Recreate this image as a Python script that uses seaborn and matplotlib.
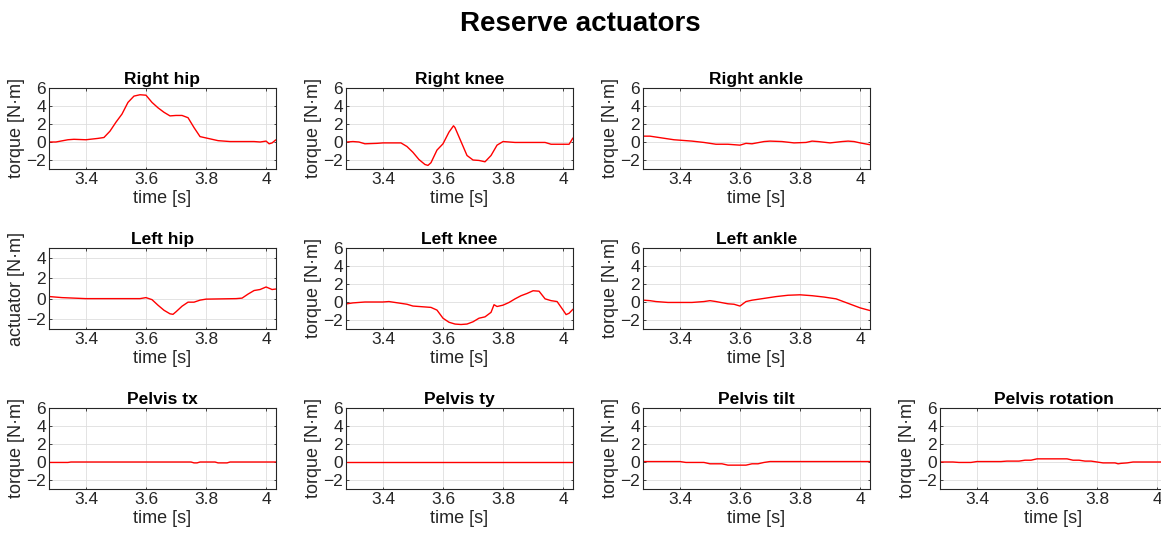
import numpy as np
import pandas as pd
import seaborn as sns
import matplotlib
matplotlib.use("Agg")
import matplotlib.pyplot as plt

# Reserve actuator torques, one (time, value) pair of lists per panel
right_hip_t = [3.28, 3.30, 3.34, 3.36, 3.40, 3.44, 3.46, 3.48, 3.50, 3.52, 3.54, 3.56, 3.58, 3.60,
               3.62, 3.64, 3.66, 3.68, 3.70, 3.72, 3.74, 3.76, 3.78, 3.80, 3.82, 3.84, 3.88, 3.92,
               3.96, 3.98, 4.00, 4.01, 4.02, 4.033]
right_hip_v = [0.0, 0.0, 0.25, 0.3, 0.25, 0.4, 0.5, 1.2, 2.2, 3.1, 4.4, 5.1, 5.25, 5.2,
               4.4, 3.8, 3.3, 2.9, 2.95, 2.95, 2.7, 1.6, 0.6, 0.45, 0.3, 0.15, 0.05, 0.05,
               0.05, 0.0, 0.1, -0.2, -0.1, 0.25]

right_knee_t = [3.28, 3.30, 3.32, 3.34, 3.38, 3.40, 3.46, 3.48, 3.50, 3.52, 3.54, 3.55, 3.56, 3.58,
                3.60, 3.62, 3.635, 3.64, 3.66, 3.68, 3.70, 3.72, 3.74, 3.76, 3.78, 3.80, 3.84, 3.94,
                3.96, 4.02, 4.033]
right_knee_v = [0.0, 0.05, 0.0, -0.2, -0.15, -0.1, -0.1, -0.5, -1.15, -1.95, -2.5, -2.6, -2.3, -0.9,
                -0.2, 1.1, 1.8, 1.6, 0.05, -1.5, -2.0, -2.05, -2.2, -1.5, -0.35, 0.05, -0.05, -0.05,
                -0.25, -0.25, 0.45]

right_ankle_t = [3.28, 3.30, 3.34, 3.38, 3.40, 3.44, 3.48, 3.52, 3.56, 3.60, 3.62, 3.64, 3.68,
                 3.70, 3.74, 3.78, 3.82, 3.84, 3.86, 3.90, 3.94, 3.96, 3.98, 4.00, 4.033]
right_ankle_v = [0.65, 0.65, 0.45, 0.25, 0.2, 0.1, -0.05, -0.25, -0.25, -0.35, -0.15, -0.2, 0.05,
                 0.1, 0.05, -0.1, -0.05, 0.1, 0.05, -0.1, 0.05, 0.1, 0.05, -0.1, -0.3]

left_hip_t = [3.28, 3.30, 3.32, 3.36, 3.40, 3.58, 3.60, 3.62, 3.64, 3.66, 3.68, 3.69, 3.70, 3.72,
              3.74, 3.76, 3.78, 3.80, 3.90, 3.92, 3.94, 3.96, 3.98, 4.00, 4.02, 4.033]
left_hip_v = [0.2, 0.15, 0.1, 0.05, 0.0, 0.0, 0.1, -0.1, -0.65, -1.15, -1.5, -1.55, -1.3, -0.75,
              -0.35, -0.35, -0.15, -0.05, 0.0, 0.05, 0.45, 0.8, 0.9, 1.15, 0.9, 0.95]

left_knee_t = [3.28, 3.30, 3.34, 3.40, 3.42, 3.44, 3.46, 3.48, 3.50, 3.54, 3.56, 3.58, 3.60, 3.62,
               3.64, 3.66, 3.68, 3.70, 3.72, 3.74, 3.76, 3.77, 3.78, 3.80, 3.82, 3.84, 3.86, 3.88,
               3.90, 3.92, 3.94, 3.96, 3.98, 4.00, 4.01, 4.02, 4.033]
left_knee_v = [-0.2, -0.1, 0.0, 0.0, 0.05, -0.05, -0.15, -0.25, -0.45, -0.55, -0.6, -0.9, -1.8, -2.25,
               -2.45, -2.5, -2.45, -2.2, -1.8, -1.65, -1.15, -0.3, -0.5, -0.35, -0.05, 0.35, 0.7, 0.95,
               1.25, 1.2, 0.35, 0.15, 0.05, -0.9, -1.4, -1.25, -0.8]

left_ankle_t = [3.28, 3.30, 3.32, 3.36, 3.44, 3.48, 3.50, 3.52, 3.56, 3.58, 3.60, 3.62, 3.64,
                3.68, 3.72, 3.76, 3.80, 3.84, 3.88, 3.92, 3.94, 3.96, 3.98, 4.00, 4.033]
left_ankle_v = [0.2, 0.15, 0.05, -0.05, -0.05, 0.05, 0.15, 0.05, -0.2, -0.25, -0.45, 0.05, 0.2,
                0.4, 0.6, 0.75, 0.8, 0.7, 0.55, 0.35, 0.1, -0.15, -0.4, -0.65, -0.95]

pelvis_tx_t = [3.28, 3.34, 3.35, 3.75, 3.76, 3.77, 3.78, 3.83, 3.84, 3.87, 3.88, 4.033]
pelvis_tx_v = [-0.05, -0.05, 0.0, 0.0, -0.1, -0.1, 0.0, 0.0, -0.1, -0.1, 0.0, 0.0]

pelvis_ty_t = [3.28, 4.033]
pelvis_ty_v = [0.0, 0.0]

pelvis_tilt_t = [3.28, 3.40, 3.42, 3.48, 3.50, 3.54, 3.56, 3.62, 3.64, 3.66, 3.68, 3.70, 4.033]
pelvis_tilt_v = [0.05, 0.05, -0.05, -0.05, -0.2, -0.2, -0.35, -0.35, -0.2, -0.2, -0.05, 0.05, 0.05]

pelvis_rot_t = [3.28, 3.32, 3.34, 3.38, 3.40, 3.48, 3.50, 3.54, 3.56, 3.58, 3.60, 3.70, 3.72,
                3.74, 3.76, 3.78, 3.80, 3.82, 3.86, 3.87, 3.88, 3.90, 3.92, 4.033]
pelvis_rot_v = [0.0, 0.0, -0.05, -0.05, 0.05, 0.05, 0.1, 0.1, 0.2, 0.2, 0.35, 0.35, 0.2,
                0.2, 0.1, 0.1, 0.0, -0.1, -0.1, -0.2, -0.15, -0.1, 0.0, 0.0]

# (title, ylabel, times, values, row, col)
PANELS = [
    ("Right hip", "torque [N·m]", right_hip_t, right_hip_v, 0, 0),
    ("Right knee", "torque [N·m]", right_knee_t, right_knee_v, 0, 1),
    ("Right ankle", "torque [N·m]", right_ankle_t, right_ankle_v, 0, 2),
    ("Left hip", "actuator [N·m]", left_hip_t, left_hip_v, 1, 0),
    ("Left knee", "torque [N·m]", left_knee_t, left_knee_v, 1, 1),
    ("Left ankle", "torque [N·m]", left_ankle_t, left_ankle_v, 1, 2),
    ("Pelvis tx", "torque [N·m]", pelvis_tx_t, pelvis_tx_v, 2, 0),
    ("Pelvis ty", "torque [N·m]", pelvis_ty_t, pelvis_ty_v, 2, 1),
    ("Pelvis tilt", "torque [N·m]", pelvis_tilt_t, pelvis_tilt_v, 2, 2),
    ("Pelvis rotation", "torque [N·m]", pelvis_rot_t, pelvis_rot_v, 2, 3),
]

# axes placement in figure pixels (1161 x 540)
W, H = 1161, 540
COL_LEFT = [49, 346, 643, 940]
ROW_TOP = [88, 248, 408]
AX_W, AX_H = 227, 81

TEXT = "#262626"
sns.set_theme(style="whitegrid", rc={
    "axes.edgecolor": TEXT,
    "axes.linewidth": 0.8,
    "grid.color": "#dedede",
    "grid.linewidth": 0.6,
    "xtick.direction": "in",
    "ytick.direction": "in",
    "xtick.bottom": True,
    "ytick.left": True,
    "xtick.top": True,
    "ytick.right": True,
    "xtick.major.size": 1.8,
    "ytick.major.size": 1.8,
    "xtick.major.width": 0.6,
    "ytick.major.width": 0.6,
    "xtick.color": TEXT,
    "ytick.color": TEXT,
    "axes.labelcolor": TEXT,
})
plt.rcParams["font.family"] = ["Liberation Sans", "DejaVu Sans"]

fig = plt.figure(figsize=(W / 100, H / 100), dpi=100)
fig.suptitle("Reserve actuators", fontsize=20, fontweight="bold", color="black", y=0.98)

for title, ylab, t, v, row, col in PANELS:
    ax = fig.add_axes([COL_LEFT[col] / W, 1 - (ROW_TOP[row] + AX_H) / H, AX_W / W, AX_H / H])
    df = pd.DataFrame({"time": t, "value": v})
    sns.lineplot(data=df, x="time", y="value", ax=ax, color="red", linewidth=1.0)
    ax.set_xlim(3.277, 4.033)
    ax.set_xticks([3.4, 3.6, 3.8, 4.0])
    ax.set_xticklabels(["3.4", "3.6", "3.8", "4"])
    if title == "Left hip":
        ax.set_ylim(-3, 5)
        ax.set_yticks([-2, 0, 2, 4])
    else:
        ax.set_ylim(-3, 6)
        ax.set_yticks([-2, 0, 2, 4, 6])
    ax.tick_params(labelsize=12.5, pad=2)
    ax.set_title(title, fontsize=12.5, fontweight="bold", color="black", pad=3)
    ax.set_xlabel("time [s]", fontsize=13, labelpad=2)
    ax.set_ylabel(ylab, fontsize=13, labelpad=1)
    for s in ax.spines.values():
        s.set_visible(True)

fig.savefig("out.png", dpi=100)
